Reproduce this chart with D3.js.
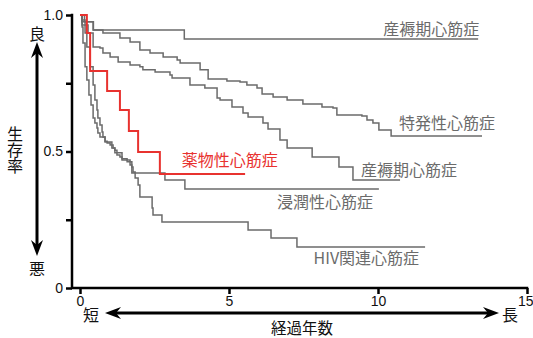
<!DOCTYPE html>
<html>
<head>
<meta charset="utf-8">
<script src="https://cdn.jsdelivr.net/npm/d3@7"></script>
<style>
  body { margin: 0; background: #fff; }
  svg { display: block; }
  text { font-family: "Liberation Sans", Arial, sans-serif; }
  .jp { font-family: "Noto Sans CJK JP", sans-serif; }
</style>
</head>
<body>
<div id="chart"></div>
<script>
// survival curves: [years, survival]
const peripartumTop = [
  [0, 1.0], [0.15, 0.975], [0.45, 0.945], [3.5, 0.912], [13.36, 0.912]
];
const idiopathic = [
  [0, 1.0], [0.06, 0.975], [0.44, 0.945], [0.77, 0.934], [1.34, 0.916], [1.68, 0.901],
  [2.01, 0.872], [2.35, 0.861], [2.79, 0.846], [3.26, 0.835], [3.36, 0.824], [4.03, 0.799],
  [4.30, 0.766], [4.93, 0.758], [5.37, 0.755], [5.60, 0.744], [5.94, 0.733], [6.11, 0.711],
  [6.48, 0.700], [6.95, 0.689], [7.48, 0.674], [8.12, 0.663], [8.49, 0.659], [8.62, 0.634],
  [9.46, 0.630], [9.63, 0.615], [9.83, 0.604], [10.03, 0.579], [10.44, 0.557], [13.49, 0.557]
];
const peripartumLow = [
  [0, 1.0], [0.07, 0.963], [0.27, 0.934], [0.44, 0.883], [0.67, 0.879], [0.77, 0.861],
  [1.01, 0.846], [1.28, 0.828], [1.68, 0.817], [2.01, 0.810], [2.11, 0.799], [2.52, 0.791],
  [3.02, 0.780], [3.09, 0.769], [3.69, 0.744], [4.19, 0.733], [4.60, 0.696], [4.70, 0.689],
  [5.10, 0.663], [5.47, 0.641], [5.64, 0.626], [6.14, 0.604], [6.31, 0.582], [6.71, 0.542],
  [6.95, 0.513], [7.79, 0.480], [8.69, 0.443], [9.16, 0.396], [10.74, 0.396]
];
const drugInduced = [
  [0, 1.0], [0.23, 0.934], [0.34, 0.795], [0.91, 0.722], [1.34, 0.652], [1.64, 0.575],
  [1.95, 0.498], [2.68, 0.418], [5.54, 0.418]
];
const infiltrative = [
  [0, 1.0], [0.07, 0.982], [0.17, 0.934], [0.23, 0.883], [0.34, 0.810], [0.44, 0.744],
  [0.50, 0.689], [0.57, 0.652], [0.60, 0.623], [0.67, 0.597], [0.74, 0.571], [0.77, 0.553],
  [0.84, 0.538], [0.91, 0.531], [1.01, 0.524], [1.11, 0.513], [1.17, 0.495], [1.41, 0.473],
  [1.58, 0.469], [1.68, 0.451], [1.74, 0.421], [2.85, 0.396], [3.52, 0.363], [10.03, 0.363]
];
const hivRelated = [
  [0, 1.0], [0.07, 0.956], [0.10, 0.897], [0.17, 0.810], [0.23, 0.762], [0.30, 0.707],
  [0.37, 0.670], [0.44, 0.623], [0.50, 0.604], [0.57, 0.586], [0.60, 0.568], [0.67, 0.553],
  [0.84, 0.535], [1.07, 0.513], [1.17, 0.505], [1.24, 0.487], [1.34, 0.480], [1.41, 0.469],
  [1.58, 0.462], [1.74, 0.443], [1.78, 0.425], [1.85, 0.403], [1.95, 0.377], [2.01, 0.333],
  [2.42, 0.293], [2.45, 0.267], [2.75, 0.242], [5.64, 0.212], [6.41, 0.183], [7.28, 0.150],
  [11.58, 0.150]
];

const xTicks = [0, 5, 10, 15];
const yTicks = [0, 0.25, 0.5, 0.75, 1];
const yTickLabels = {0: "0", 0.5: "0.5", 1: "1.0"};

const GRAY = "#6b6b6b", RED = "#e8322f";

// label: right end of the text in [years, survival]
const series = [
  {name: "産褥期心筋症", data: peripartumTop, color: GRAY, label: [13.4, 0.928]},
  {name: "特発性心筋症", data: idiopathic, color: GRAY, label: [13.93, 0.582]},
  {name: "産褥期心筋症", data: peripartumLow, color: GRAY, label: [12.65, 0.41]},
  {name: "浸潤性心筋症", data: infiltrative, color: GRAY, label: [9.83, 0.293]},
  {name: "HIV関連心筋症", data: hivRelated, color: GRAY, label: [11.38, 0.088]},
  {name: "薬物性心筋症", data: drugInduced, color: RED, label: [6.64, 0.447]}
];

const width = 533, height = 338;
const axisX = 72;

const svg = d3.select("#chart").append("svg")
  .attr("width", width)
  .attr("height", height);

const x = d3.scaleLinear().domain([0, 15]).range([80, 527]);
const y = d3.scaleLinear().domain([0, 1]).range([288, 15]);

// curves
const line = d3.line()
  .x(d => x(d[0]))
  .y(d => y(d[1]))
  .curve(d3.curveStepAfter);

series.forEach(s => {
  svg.append("path")
    .datum(s.data)
    .attr("fill", "none")
    .attr("stroke", s.color)
    .attr("stroke-width", s.color === RED ? 2 : 1.5)
    .attr("d", line);

  svg.append("text")
    .attr("class", "jp")
    .attr("x", x(s.label[0]))
    .attr("y", y(s.label[1]))
    .attr("text-anchor", "end")
    .attr("fill", s.color)
    .attr("font-size", 16)
    .text(s.name);
});

// axes
const yAxis = svg.append("g")
  .attr("transform", `translate(${axisX},0)`)
  .call(d3.axisLeft(y).tickValues(yTicks).tickSize(6).tickPadding(3)
    .tickFormat(d => yTickLabels[d] || ""));

const xAxis = svg.append("g")
  .attr("transform", `translate(0,${y(0)})`)
  .call(d3.axisBottom(x).tickValues(xTicks).tickSize(6).tickPadding(2));

[yAxis, xAxis].forEach(g => {
  g.select(".domain").remove();
  g.selectAll(".tick line").attr("stroke", "#000").attr("stroke-width", 2.5);
  g.selectAll(".tick text").attr("fill", "#111").attr("font-size", 14)
    .attr("font-family", "Liberation Sans, Arial, sans-serif");
});
// keep the last tick label inside the picture
xAxis.selectAll(".tick text").filter(d => d === 15).attr("text-anchor", "end").attr("dx", 6);

svg.append("path")
  .attr("d", `M${axisX},${y(1)}V${y(0)}H${x(15)}`)
  .attr("fill", "none")
  .attr("stroke", "#000")
  .attr("stroke-width", 2.5)
  .attr("stroke-linecap", "square");

// direction arrows
const arrowHead = (tipX, tipY, dir) => {
  // dir: unit vector pointing toward the tip
  const len = 16, half = 6, notch = 5;
  const [dx, dy] = dir;
  const bx = tipX - dx * len, by = tipY - dy * len;
  const nx = tipX - dx * (len - notch), ny = tipY - dy * (len - notch);
  return `M${tipX},${tipY}L${bx - dy * half},${by + dx * half}L${nx},${ny}L${bx + dy * half},${by - dx * half}Z`;
};

svg.append("line")
  .attr("x1", 37).attr("y1", 52).attr("x2", 37).attr("y2", 246)
  .attr("stroke", "#000").attr("stroke-width", 3);
svg.append("path").attr("d", arrowHead(37, 42, [0, -1])).attr("fill", "#000");
svg.append("path").attr("d", arrowHead(37, 256, [0, 1])).attr("fill", "#000");

svg.append("line")
  .attr("x1", 115).attr("y1", 313).attr("x2", 490).attr("y2", 313)
  .attr("stroke", "#000").attr("stroke-width", 3);
svg.append("path").attr("d", arrowHead(105, 313, [-1, 0])).attr("fill", "#000");
svg.append("path").attr("d", arrowHead(499, 313, [1, 0])).attr("fill", "#000");

const jpText = (tx, ty, str) => svg.append("text")
  .attr("class", "jp")
  .attr("x", tx).attr("y", ty)
  .attr("text-anchor", "middle")
  .attr("dominant-baseline", "central")
  .attr("font-size", 16)
  .attr("fill", "#111")
  .text(str);

jpText(37, 33, "良");
jpText(37, 268, "悪");
jpText(91, 314, "短");
jpText(510, 314, "長");
jpText(302, 327, "経過年数").attr("font-size", 15.5);

svg.append("text")
  .attr("class", "jp")
  .attr("x", 15).attr("y", 150)
  .attr("text-anchor", "middle")
  .attr("font-size", 16)
  .attr("fill", "#111")
  .style("writing-mode", "vertical-rl")
  .style("glyph-orientation-vertical", "0")
  .text("生存率");
</script>
</body>
</html>
